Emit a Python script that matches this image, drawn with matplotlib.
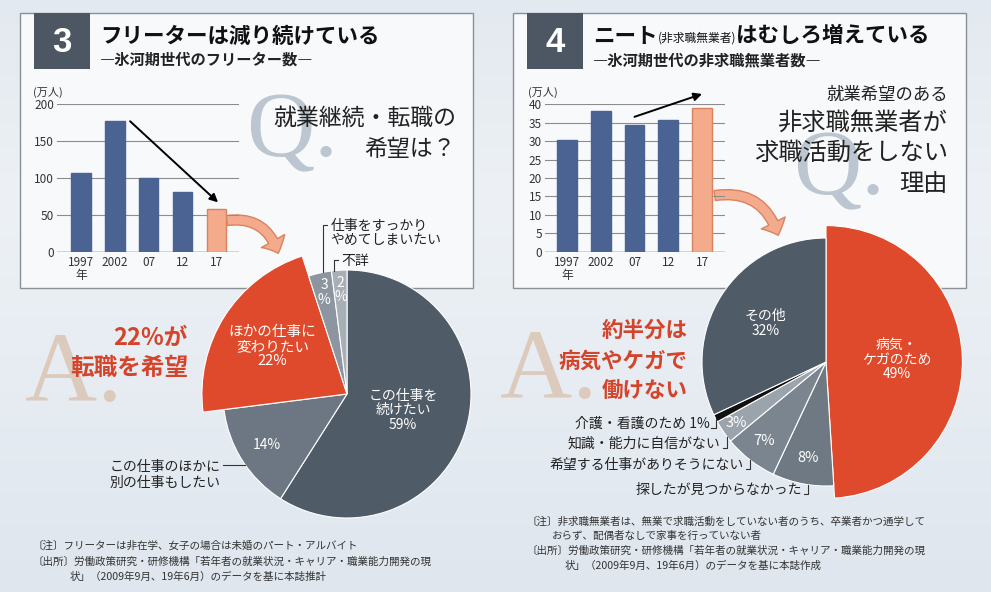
import numpy as np
import matplotlib
matplotlib.use('Agg')
import matplotlib.pyplot as plt
from matplotlib.patches import Rectangle, FancyArrowPatch, ArrowStyle
from matplotlib.colors import LinearSegmentedColormap

plt.rcParams['font.family'] = ['Noto Sans CJK JP', 'DejaVu Sans']

# ---------------- data ----------------
years = ['1997\n年', '2002', '07', '12', '17']
freeter = [107, 177, 100, 81, 58]          # 万人
neet = [30.3, 38.1, 34.3, 35.7, 39.1]       # 万人
freeter_ticks = [0, 50, 100, 150, 200]
neet_ticks = [0, 5, 10, 15, 20, 25, 30, 35, 40]

pie1_names = ['この仕事を\n続けたい', 'この仕事のほかに\n別の仕事もしたい', 'ほかの仕事に\n変わりたい',
              '仕事をすっかり\nやめてしまいたい', '不詳']
pie1_values = [59, 14, 22, 3, 2]
pie2_names = ['病気・\nケガのため', '探したが見つからなかった', '希望する仕事がありそうにない',
              '知識・能力に自信がない', '介護・看護のため', 'その他']
pie2_values = [49, 8, 7, 3, 1, 32]

# ---------------- styles ----------------
W, H = 991, 592
BLUE = '#4b6392'
SALMON = '#f4ab8c'
SALMON_EDGE = '#d9825f'
RED = '#de4a2b'
DARK = '#4f5b67'
TXT = '#222222'
pie1_colors = [DARK, '#6c7783', RED, '#8d96a0', '#a7afb7']
pie2_colors = [RED, '#6e7984', '#7b8590', '#9ba3ac', '#111111', DARK]

fig = plt.figure(figsize=(W / 100, H / 100), dpi=100)


def px_axes(x0, y0, w, h, z=1):
    return fig.add_axes([x0 / W, 1 - (y0 + h) / H, w / W, h / H], zorder=z)


# background
bg = px_axes(0, 0, W, H, z=0)
cmap = LinearSegmentedColormap.from_list('bgc', ['#e3e9f0', '#edf1f5', '#e6ecf2', '#dfe6ee'])
grad = np.linspace(0, 1, 256).reshape(-1, 1)
bg.imshow(grad, extent=(0, W, H, 0), aspect='auto', cmap=cmap, zorder=0)
bg.set_xlim(0, W)
bg.set_ylim(H, 0)
bg.axis('off')

# panel boxes
for x0 in (20, 513):
    bg.add_patch(Rectangle((x0, 13), 453, 275, fc='#f7f9fb', ec='#8a9097', lw=1.0, zorder=1))
for x0, num in ((34, '3'), (527, '4')):
    bg.add_patch(Rectangle((x0, 13), 56, 56, fc='#4c5763', ec='none', zorder=2))
    bg.text(x0 + 28, 42, num, color='white', fontsize=25, fontweight='bold', ha='center',
            va='center', family='Liberation Sans', zorder=3)

# titles
bg.text(100, 36, 'フリーターは減り続けている', fontsize=15.5, fontweight='bold', va='center', color='#111', zorder=3)
bg.text(100, 60, '―氷河期世代のフリーター数―', fontsize=11, fontweight='bold', va='center', color='#222', zorder=3)

fig.canvas.draw()
renderer = fig.canvas.get_renderer()
inv = bg.transData.inverted()
x = 593
for s, fs, fw, dy in (('ニート', 15.5, 'bold', 0), ('(非求職無業者)', 8.5, 'normal', 2), ('はむしろ増えている', 15.5, 'bold', 0)):
    t = bg.text(x, 36 + dy, s, fontsize=fs, fontweight=fw, va='center', color='#111', zorder=3)
    bb = t.get_window_extent(renderer)
    x = inv.transform((bb.x1, bb.y0))[0]
bg.text(593, 60, '―氷河期世代の非求職無業者数―', fontsize=11, fontweight='bold', va='center', color='#222', zorder=3)

# watermarks
for xq, yq in ((246, 156), (793, 194)):
    bg.text(xq, yq, 'Q.', fontsize=68, family='Liberation Serif', color='#bcc6d0', va='baseline', zorder=2)
for xa, ya in ((25, 401), (500, 398)):
    bg.text(xa, ya, 'A.', fontsize=72, family='Liberation Serif', color='#dccabd', va='baseline', zorder=2)

# question texts
bg.text(456, 118, '就業継続・転職の', fontsize=16.5, ha='right', va='center', color=TXT, zorder=3)
bg.text(456, 149, '希望は？', fontsize=16.5, ha='right', va='center', color=TXT, zorder=3)
bg.text(948, 95, '就業希望のある', fontsize=12.5, ha='right', va='center', color=TXT, zorder=3)
bg.text(948, 123, '非求職無業者が', fontsize=17.5, ha='right', va='center', color=TXT, zorder=3)
bg.text(948, 153, '求職活動をしない', fontsize=17.5, ha='right', va='center', color=TXT, zorder=3)
bg.text(948, 184, '理由', fontsize=17.5, ha='right', va='center', color=TXT, zorder=3)

# answer texts
bg.text(188, 338, '22%が', fontsize=17, fontweight='bold', ha='right', va='center', color='#d4442a', zorder=3)
bg.text(188, 368, '転職を希望', fontsize=17, fontweight='bold', ha='right', va='center', color='#d4442a', zorder=3)
bg.text(688, 330, '約半分は', fontsize=15.5, fontweight='bold', ha='right', va='center', color='#d4442a', zorder=3)
bg.text(688, 361, '病気やケガで', fontsize=15.5, fontweight='bold', ha='right', va='center', color='#d4442a', zorder=3)
bg.text(688, 390, '働けない', fontsize=15.5, fontweight='bold', ha='right', va='center', color='#d4442a', zorder=3)

# notes
NFS = 7.6
bg.text(33, 546, '〔注〕フリーターは非在学、女子の場合は未婚のパート・アルバイト', fontsize=NFS, va='center', color='#333', zorder=3)
bg.text(33, 562, '〔出所〕労働政策研究・研修機構「若年者の就業状況・キャリア・職業能力開発の現', fontsize=NFS, va='center', color='#333', zorder=3)
bg.text(70, 577, '状」（2009年9月、19年6月）のデータを基に本誌推計', fontsize=NFS, va='center', color='#333', zorder=3)
bg.text(527, 522, '〔注〕非求職無業者は、無業で求職活動をしていない者のうち、卒業者かつ通学して', fontsize=NFS, va='center', color='#333', zorder=3)
bg.text(552, 536, 'おらず、配偶者なしで家事を行っていない者', fontsize=NFS, va='center', color='#333', zorder=3)
bg.text(527, 551, '〔出所〕労働政策研究・研修機構「若年者の就業状況・キャリア・職業能力開発の現', fontsize=NFS, va='center', color='#333', zorder=3)
bg.text(565, 566, '状」（2009年9月、19年6月）のデータを基に本誌作成', fontsize=NFS, va='center', color='#333', zorder=3)

# (万人)
bg.text(33, 92, '(万人)', fontsize=8, va='center', color='#333', zorder=3)
bg.text(528, 92, '(万人)', fontsize=8, va='center', color='#333', zorder=3)


# ---------------- bar charts ----------------
def bar_chart(x0, w, values, ticks, ymax, xlim, arrow_from, arrow_to):
    ax = px_axes(x0, 104.3, w, 147.4, z=2)
    ax.patch.set_alpha(0)
    cols = [BLUE] * (len(values) - 1) + [SALMON]
    ecs = [BLUE] * (len(values) - 1) + [SALMON_EDGE]
    ax.bar(range(len(values)), values, width=0.58, color=cols, edgecolor=ecs, linewidth=1.0, zorder=3)
    ax.set_ylim(0, ymax)
    ax.set_xlim(*xlim)
    ax.set_yticks(ticks)
    ax.set_yticklabels([str(t) for t in ticks])
    ax.set_xticks(range(len(values)))
    ax.set_xticklabels(years)
    ax.yaxis.grid(True, color='#8c8c8c', lw=0.8)
    ax.set_axisbelow(True)
    for sp in ax.spines.values():
        sp.set_visible(False)
    ax.axhline(0, color='#555', lw=1.0, zorder=2)
    ax.tick_params(axis='y', length=0, pad=2, labelsize=8.5, labelcolor='#333')
    ax.tick_params(axis='x', length=0, pad=3, labelsize=8.5, labelcolor='#333')
    for lab in ax.get_xticklabels():
        lab.set_linespacing(1.0)
    ax.annotate('', xy=arrow_to, xytext=arrow_from, annotation_clip=False,
                arrowprops=dict(arrowstyle='-|>', color='black', lw=1.4, mutation_scale=12,
                                shrinkA=0, shrinkB=0))
    return ax


bar_chart(57, 182, freeter, freeter_ticks, 200, (-0.71, 4.67),
          (1.45, freeter[1]), (4.05, freeter[4] + 9))
bar_chart(545, 180, neet, neet_ticks, 40, (-0.65, 4.68),
          (2.0, neet[2] + 2.3), (4.0, neet[4] + 3.7))

# curved salmon arrows
for a, b in (((224, 221), (279, 256)), ((712, 196), (779, 238))):
    arr = FancyArrowPatch(a, b, connectionstyle='arc3,rad=-0.45',
                          arrowstyle=ArrowStyle.Simple(head_length=0.6, head_width=1.2, tail_width=0.45),
                          mutation_scale=16, fc=SALMON, ec=SALMON_EDGE, lw=1.0, zorder=4)
    bg.add_patch(arr)


# ---------------- pies ----------------
R_PX = 124


def pie_chart(cx, cy, values, colors, big_idx, big_r):
    ax = px_axes(cx - 165, cy - 165, 330, 330, z=3)
    wedges, _ = ax.pie(values, colors=colors, startangle=90, counterclock=False,
                       wedgeprops=dict(edgecolor='white', linewidth=0.8))
    wedges[big_idx].set_radius(big_r)
    lim = 165 / R_PX
    ax.set_xlim(-lim, lim)
    ax.set_ylim(-lim, lim)
    ax.set_aspect('equal')
    ax.axis('off')
    return ax, wedges


def mid(w):
    return np.deg2rad((w.theta1 + w.theta2) / 2)


# left pie
ax1, w1 = pie_chart(347, 394, pie1_values, pie1_colors, 2, 1.17)
in_text1 = [f'{pie1_names[0]}\n{pie1_values[0]}%', f'{pie1_values[1]}%',
            f'{pie1_names[2]}\n{pie1_values[2]}%', f'{pie1_values[3]}\n%', f'{pie1_values[4]}\n%']
dist1 = [0.47, 0.77, 0.71, 0.84, 0.84]
fs1 = [10, 10, 10.5, 10, 10]
for i, w in enumerate(w1):
    a = mid(w)
    ax1.text(dist1[i] * np.cos(a), dist1[i] * np.sin(a), in_text1[i], color='white', fontsize=fs1[i],
             ha='center', va='center', linespacing=1.05)

# outer labels, left pie
a = np.deg2rad(-145)
px_, py_ = np.cos(a), np.sin(a)
ax1.plot([px_, -1.0], [py_, py_], color='#333', lw=0.8, clip_on=False)
ax1.text(-1.02, -0.653, pie1_names[1], fontsize=10, ha='right', va='center', color=TXT, linespacing=1.1)
for ang, ytop, txt, yt in ((101.2, 1.363, pie1_names[3], 1.30), (96.0, 1.08, pie1_names[4], 1.07)):
    a = np.deg2rad(ang)
    px_, py_ = np.cos(a), np.sin(a)
    ax1.plot([px_, px_, px_ + 0.035], [py_, ytop, ytop], color='#333', lw=0.8, clip_on=False)
    ax1.text(px_ + 0.06, yt, txt, fontsize=10, ha='left', va='center', color=TXT, linespacing=1.05)

# right pie
ax2, w2 = pie_chart(826, 362, pie2_values, pie2_colors, 0, 1.1)
in_text2 = [f'{pie2_names[0]}\n{pie2_values[0]}%', f'{pie2_values[1]}%', f'{pie2_values[2]}%',
            f'{pie2_values[3]}%', None, f'{pie2_names[5]}\n{pie2_values[5]}%']
dist2 = [0.57, 0.79, 0.81, 0.87, 0, 0.58]
fs2 = [10, 10.5, 10.5, 10.5, 10, 10]
for i, w in enumerate(w2):
    if in_text2[i] is None:
        continue
    a = mid(w)
    ax2.text(dist2[i] * np.cos(a), dist2[i] * np.sin(a), in_text2[i], color='white', fontsize=fs2[i],
             ha='center', va='center', linespacing=1.05)

out2 = [(1, -98.3, -1.03), (2, -127.8, -0.83), (3, -143.0, -0.655), (4, -153.0, -0.495)]
for idx, ang, yt in out2:
    a = np.deg2rad(ang)
    px_, py_ = np.cos(a), np.sin(a)
    ax2.plot([px_, px_, px_ - 0.035], [py_, yt - 0.035, yt - 0.035], color='#333', lw=0.8, clip_on=False)
    label = pie2_names[idx] + (f' {pie2_values[idx]}%' if idx == 4 else '')
    ax2.text(px_ - 0.05, yt, label, fontsize=10, ha='right', va='center', color=TXT)

fig.savefig('out.png', dpi=100)
